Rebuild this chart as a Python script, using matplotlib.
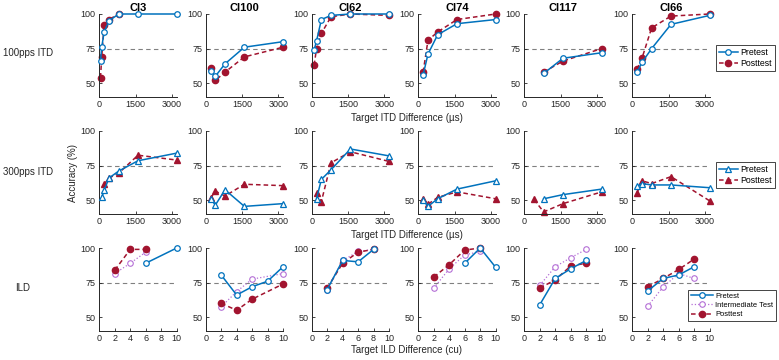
import numpy as np
import matplotlib
matplotlib.use("Agg")
import matplotlib.pyplot as plt

plt.rcParams["font.family"] = ["Liberation Sans", "DejaVu Sans"]

nan = np.nan

subjects = ["CI3", "CI100", "CI62", "CI74", "CI117", "CI66"]
itd_x = [50, 100, 200, 400, 800, 1600, 3200]
ild_x = [2, 4, 6, 8, 10]

# 100pps ITD
itd100_pre = [
    [66, 76, 87, 95, 100, 100, 100],
    [nan, nan, 59, 55, 64, 76, 80],
    [nan, 74, 80.5, 96, 99, 100, 100],
    [nan, nan, 56, 71, 85, 93, 96],
    [nan, nan, nan, nan, 57, 68, 72],
    [nan, nan, 58, 65, 75, 92.5, 99],
]
itd100_post = [
    [54, 69, 92, 96, 100, nan, nan],
    [nan, nan, 61, 52, 58, 69, 76],
    [nan, 63, 75, 86, 98, 100, 99],
    [nan, nan, 58, 81, 87, 96, 100],
    [nan, nan, nan, nan, 58, 66, 75],
    [nan, nan, 60, 68, 90, 98.5, 100],
]

# 300pps ITD
itd300_pre = [
    [nan, 52, 57, 66, 71, 78.5, 84],
    [nan, nan, 51, 46.5, 57.5, 45.5, 47.5],
    [nan, nan, 51, 65, 72, 87, 82],
    [nan, nan, 50, 45.5, 51, 58, 64],
    [nan, nan, nan, nan, 51, 54, 58],
    [nan, nan, 60, 62, 61, 61, 59],
]
itd300_post = [
    [nan, nan, 61.5, 66, 69.5, 82.5, 79],
    [nan, nan, 51.5, 56.5, 53, 61.5, 60.5],
    [nan, nan, 55.5, 49, 77, 85, 78],
    [nan, nan, 51, 47, 52, 56, 51],
    [nan, nan, nan, 50.5, 41.5, 47.5, 56],
    [nan, nan, 55.5, 64, 62, 67, 49.5],
]

# ILD
ild_pre = [
    [nan, nan, 89, nan, 100],
    [80.5, 66, 72, 76, 86.5],
    [70, 91, 90, 99, nan],
    [nan, nan, 89, 100, 86],
    [59, 78, 85, 91, nan],
    [69, 78, 80.5, 86.5, nan],
]
ild_mid = [
    [81.5, 89, 97, nan, nan],
    [57.5, 68.5, 77.5, nan, 81.5],
    [70, 91, 97.5, 99, nan],
    [71, 85, 95, 97.5, nan],
    [73, 86.5, 93, 99, nan],
    [58, 72, 81.5, 78, nan],
]
ild_post = [
    [84, 99, 99, nan, nan],
    [60, 55, 63, nan, 74],
    [71, 89, 97, 99, nan],
    [79, 88, 98.5, 100, nan],
    [71, 77, 87, 89, nan],
    [72, 78, 84.5, 92, nan],
]

BLUE = "#0072BD"
RED = "#A2142F"
PURPLE = "#B46FD6"
GREY = "#262626"

W, H = 779, 360
fig = plt.figure(figsize=(W / 100, H / 100), dpi=100)

lefts = [99.3, 205.7, 311.7, 418.3, 524.3, 632.3]
tops = [14, 131, 248]
aw, ah = 77.4, 83


def add_ax(r, c):
    l = lefts[c] / W
    b = 1 - (tops[r] + ah) / H
    return fig.add_axes([l, b, aw / W, ah / H])


def draw(ax, x, y, **kw):
    x = np.asarray(x, float)
    y = np.asarray(y, float)
    m = ~np.isnan(y)
    return ax.plot(x[m], y[m], clip_on=False, **kw)[0]


def style(ax, ild=False):
    ax.set_ylim(40, 100)
    ax.set_yticks([50, 75, 100])
    if ild:
        ax.set_xlim(0, 10)
        ax.set_xticks([0, 2, 4, 6, 8, 10])
    else:
        ax.set_xlim(0, 3200)
        ax.set_xticks([0, 1500, 3000])
    ax.axhline(75, color="#808080", ls="--", lw=0.8, dashes=(4, 3), zorder=0)
    for s in ["top", "right"]:
        ax.spines[s].set_visible(False)
    for s in ["left", "bottom"]:
        ax.spines[s].set_color(GREY)
        ax.spines[s].set_linewidth(0.7)
    ax.tick_params(direction="in", length=2.5, width=0.6, labelsize=6.5,
                   colors=GREY, pad=2.5)


def add_legend(ax, handles, right, top, fsize, hlen):
    leg = ax.legend(handles=handles, loc="upper right",
                    bbox_to_anchor=(right / W, 1 - top / H),
                    bbox_transform=fig.transFigure, fontsize=fsize,
                    fancybox=False, framealpha=1, edgecolor=GREY,
                    handlelength=hlen, handletextpad=0.3,
                    borderpad=0.35, labelspacing=0.25, borderaxespad=0)
    leg.get_frame().set_linewidth(0.6)


ms = 4.0
rows = [(itd100_pre, itd100_post, "o"), (itd300_pre, itd300_post, "^")]
legend_tr = [(775, 45), (775, 162)]

for r, (pre, post, mk) in enumerate(rows):
    for c, name in enumerate(subjects):
        ax = add_ax(r, c)
        style(ax)
        h1 = draw(ax, itd_x, pre[c], color=BLUE, lw=1.1, marker=mk, ms=ms,
                  mfc="white", mec=BLUE, mew=0.9, label="Pretest", zorder=3)
        h2 = draw(ax, itd_x, post[c], color=RED, lw=1.1, ls="--", dashes=(3, 2),
                  marker=mk, ms=ms + 0.5, mfc=RED, mec=RED, label="Posttest", zorder=2)
        if r == 0:
            ax.set_title(name, fontsize=8, fontweight="bold", pad=2)
        if c == 5:
            lx, ly = legend_tr[r]
            add_legend(ax, [h1, h2], lx, ly, 6.3, 2.2)

for c, name in enumerate(subjects):
    ax = add_ax(2, c)
    style(ax, ild=True)
    h1 = draw(ax, ild_x, ild_pre[c], color=BLUE, lw=1.1, marker="o", ms=ms,
              mfc="white", mec=BLUE, mew=0.9, label="Pretest", zorder=3)
    h2 = draw(ax, ild_x, ild_mid[c], color=PURPLE, lw=0.9, ls=":", marker="o",
              ms=ms, mfc="white", mec=PURPLE, mew=0.8,
              label="Intermediate Test", zorder=2)
    h3 = draw(ax, ild_x, ild_post[c], color=RED, lw=1.1, ls="--", dashes=(3, 2),
              marker="o", ms=ms + 0.5, mfc=RED, mec=RED, label="Posttest", zorder=2)
    if c == 5:
        add_legend(ax, [h1, h2, h3], 776, 290, 5.4, 3.0)

# row labels and axis labels
fs = 7
fig.text(28 / W, 1 - 53 / H, "100pps ITD", fontsize=fs, ha="center", va="center", color=GREY)
fig.text(28 / W, 1 - 172 / H, "300pps ITD", fontsize=fs, ha="center", va="center", color=GREY)
fig.text(23 / W, 1 - 288 / H, "ILD", fontsize=fs, ha="center", va="center", color=GREY)
fig.text(73 / W, 1 - 173 / H, "Accuracy (%)", fontsize=fs, rotation=90,
         ha="center", va="center", color=GREY)
fig.text(407 / W, 1 - 118 / H, "Target ITD Difference (\u00b5s)", fontsize=fs,
         ha="center", va="center", color=GREY)
fig.text(407 / W, 1 - 235 / H, "Target ITD Difference (\u00b5s)", fontsize=fs,
         ha="center", va="center", color=GREY)
fig.text(407 / W, 1 - 350 / H, "Target ILD Difference (cu)", fontsize=fs,
         ha="center", va="center", color=GREY)

fig.savefig("out.png", dpi=100)
